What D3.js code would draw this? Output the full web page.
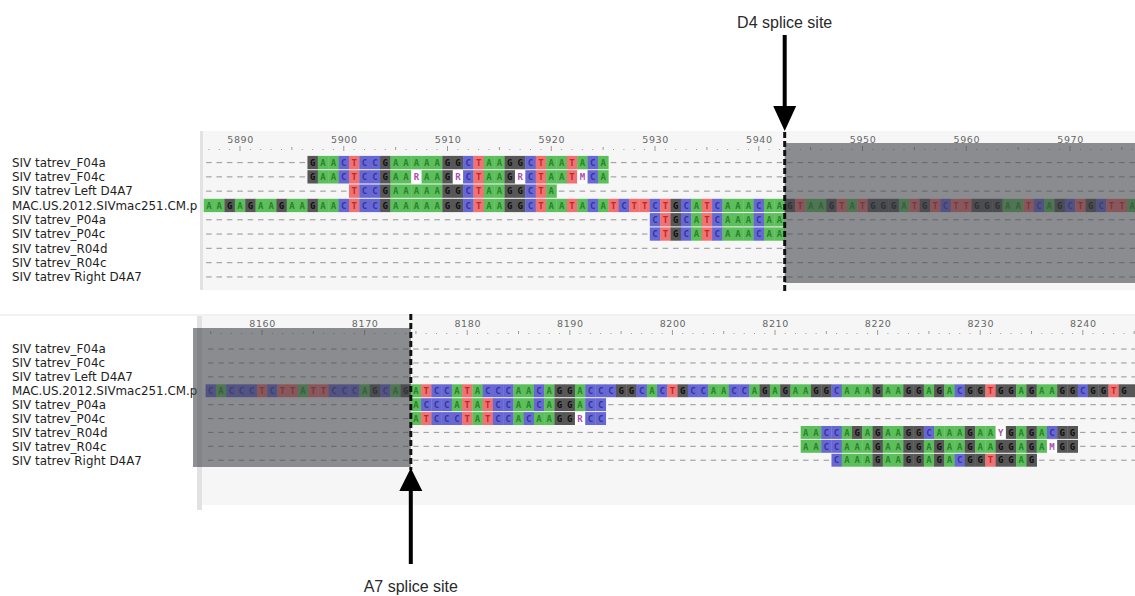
<!DOCTYPE html>
<html>
<head>
<meta charset="utf-8">
<script src="https://cdn.jsdelivr.net/npm/d3@7"></script>
<style>
  body { margin: 0; background: #fff; }
  svg { display: block; }
</style>
</head>
<body>
<svg class="alignment" width="1135" height="596"></svg>
<script>
const rowNames = [
    'SIV tatrev_F04a',
    'SIV tatrev_F04c',
    'SIV tatrev Left D4A7',
    'MAC.US.2012.SIVmac251.CM.p',
    'SIV tatrev_P04a',
    'SIV tatrev_P04c',
    'SIV tatrev_R04d',
    'SIV tatrev_R04c',
    'SIV tatrev Right D4A7'
];

// upper window, around the D4 splice donor
const topFirstPos = 5887;
const topLastPos = 5976;
const topTicks = [5890, 5900, 5910, 5920, 5930, 5940, 5950, 5960, 5970];
const topSpliceAfter = 5942;
const topStarts = [5897, 5897, 5901, 5887, 5930, 5930, null, null, null];
const topSeqs = [
    'GAACTCCGAAAAAGGCTAAGGCTAATACA',
    'GAACTCCGAARAAGRCTAAGRCTAATMCA',
    'TCCGAAAAAGGCTAAGGCTA',
    'AAGAGAAGAAGAACTCCGAAAAAGGCTAAGGCTAATACATCTTCTGCATCAAACAA' + 'GTAAGTATGGGATGTCTTGGGAATCAGCTGCTTA',
    'CTGCATCAAACAA',
    'CTGCATCAAACAA',
    '', '', ''
];

// lower window, around the A7 splice acceptor
const bottomFirstPos = 8155;
const bottomLastPos = 8245;
const bottomTicks = [8160, 8170, 8180, 8190, 8200, 8210, 8220, 8230, 8240];
const bottomSpliceAfter = 8174;
const bottomStarts = [null, null, null, 8155, 8175, 8175, 8213, 8213, 8216];
const bottomSeqs = [
    '', '', '',
    'CACCCTCTTATTCCCAGCAG' + 'ATCCATACCCAACAGGACCCGGCACTGCCAACCAGAGAAGGCAAAGAAGGAGACGGTGGAGAAGGCGGTGG',
    'ACCCATATCCAACAGGACC',
    'ATCCCTATCCACAAGGRCC',
    'AACCAGAGAAGGCAAAGAAYGAGACGG',
    'AACCAAAGAAGGAGAAGAAGGAGAMGG',
    'CAAAGAAGGAGACGGTGGAG'
];

const baseFill = { A: '#5cbf5c', C: '#6868d4', G: '#575757', T: '#f07272' };
const baseText = { A: '#2c832c', C: '#34349e', G: '#0e0e0e', T: '#c02828' };

const svg = d3.select('.alignment');
const W = +svg.attr('width');

function drawPanel(p) {
    const x = d3.scaleLinear()
        .domain([p.firstPos, p.firstPos + 1])
        .range([p.x0, p.x0 + p.cellW]);
    const y = d3.scaleBand()
        .domain(d3.range(rowNames.length))
        .range([p.rowTop, p.rowTop + p.rowStep * rowNames.length]);
    const rowMid = i => y(i) + y.bandwidth() / 2;
    const positions = d3.range(p.firstPos, p.lastPos + 1);
    const spliceX = x(p.spliceAfter + 1);

    const g = svg.append('g');

    if (p.borderY) {
        g.append('line')
            .attr('x1', 0).attr('x2', W)
            .attr('y1', p.borderY).attr('y2', p.borderY)
            .attr('stroke', '#e3e3e3');
    }
    g.append('rect')
        .attr('x', p.bgX).attr('y', p.bgTop)
        .attr('width', W - p.bgX).attr('height', p.bgBottom - p.bgTop)
        .attr('fill', '#f6f6f6');
    g.append('rect')
        .attr('x', p.sepX).attr('y', p.bgTop)
        .attr('width', p.sepW).attr('height', p.sepBottom - p.bgTop)
        .attr('fill', '#e2e2e2');

    // sequence names
    g.selectAll('text.name')
        .data(rowNames)
        .join('text')
        .attr('class', 'name')
        .attr('x', 12)
        .attr('y', (d, i) => rowMid(i))
        .attr('dy', '0.36em')
        .attr('font-family', 'DejaVu Sans, sans-serif')
        .attr('font-size', 11.9)
        .attr('fill', '#1e1e1e')
        .text(d => d);

    svg.append('clipPath').attr('id', 'clip-' + p.id)
        .append('rect')
        .attr('x', p.bgX + p.sepW).attr('y', p.bgTop)
        .attr('width', W - p.bgX).attr('height', p.bgBottom - p.bgTop);
    const a = g.append('g').attr('clip-path', `url(#clip-${p.id})`);

    // ruler
    const ruler = a.append('g')
        .attr('transform', `translate(${p.cellW / 2},${p.labelY})`)
        .call(d3.axisTop(x)
            .tickValues(p.ticks)
            .tickSize(0)
            .tickPadding(0)
            .tickFormat(d3.format('d')));
    ruler.select('.domain').remove();
    ruler.attr('font-family', 'DejaVu Sans, sans-serif').attr('font-size', 9.5);
    ruler.selectAll('text').attr('fill', '#666').attr('letter-spacing', '0.6px');

    a.append('g')
        .selectAll('rect')
        .data(positions)
        .join('rect')
        .attr('x', d => x(d) + p.cellW / 2 - 0.5)
        .attr('y', d => d % 10 === 0 ? p.dotsY - 3 : d % 5 === 0 ? p.dotsY - 2 : p.dotsY)
        .attr('width', 1)
        .attr('height', d => d % 10 === 0 ? 5 : d % 5 === 0 ? 3 : 1)
        .attr('fill', '#9a9a9a');

    // gaps and bases
    const gaps = [];
    const bases = [];
    p.seqs.forEach((s, i) => {
        const start = p.starts[i];
        positions.forEach(pos => {
            const k = start === null ? -1 : pos - start;
            if (k >= 0 && k < s.length) bases.push({ row: i, pos, b: s[k] });
            else gaps.push({ row: i, pos });
        });
    });

    a.append('g')
        .selectAll('line')
        .data(gaps)
        .join('line')
        .attr('x1', d => x(d.pos) + 2.4)
        .attr('x2', d => x(d.pos + 1) - 2.4)
        .attr('y1', d => rowMid(d.row))
        .attr('y2', d => rowMid(d.row))
        .attr('stroke', '#a4a4a4')
        .attr('stroke-width', 1.2);

    const cell = a.append('g')
        .selectAll('g')
        .data(bases)
        .join('g')
        .attr('transform', d => `translate(${x(d.pos)},${y(d.row)})`);
    cell.append('rect')
        .attr('y', 0.5)
        .attr('width', p.cellW + 0.3)
        .attr('height', y.bandwidth() - 1)
        .attr('fill', d => baseFill[d.b] || '#ffffff');
    // letters only where the whole column is on screen
    cell.filter(d => x(d.pos + 1) <= W + 3)
        .append('text')
        .attr('x', p.cellW / 2)
        .attr('y', y.bandwidth() / 2)
        .attr('dy', '0.36em')
        .attr('text-anchor', 'middle')
        .attr('font-family', 'DejaVu Sans Mono, monospace')
        .attr('font-weight', 'bold')
        .attr('font-size', 9)
        .attr('fill', d => baseText[d.b] || '#b04cb0')
        .text(d => d.b);

    // shaded part outside the exon
    const ox1 = p.shadeRight ? spliceX : p.shadeX;
    const ox2 = p.shadeRight ? W : spliceX;
    g.append('rect')
        .attr('x', ox1).attr('y', p.shadeTop)
        .attr('width', ox2 - ox1).attr('height', p.shadeBottom - p.shadeTop)
        .attr('fill', 'rgb(68,70,77)')
        .attr('fill-opacity', 0.6);

    // splice junction
    g.append('line')
        .attr('x1', spliceX).attr('x2', spliceX)
        .attr('y1', p.lineTop).attr('y2', p.lineBottom)
        .attr('stroke', '#111')
        .attr('stroke-width', 3)
        .attr('stroke-dasharray', '6,3');

    return spliceX;
}

const topX = drawPanel({
    id: 'top', firstPos: topFirstPos, lastPos: topLastPos, ticks: topTicks,
    spliceAfter: topSpliceAfter, starts: topStarts, seqs: topSeqs,
    x0: 203.7, cellW: 10.375, labelY: 142.5, dotsY: 149,
    rowTop: 155.4, rowStep: 14.3,
    bgX: 200, bgTop: 131, bgBottom: 290, sepX: 200, sepW: 3, sepBottom: 290,
    shadeRight: true, shadeTop: 143, shadeBottom: 283,
    lineTop: 132, lineBottom: 291
});

const bottomX = drawPanel({
    id: 'bottom', firstPos: bottomFirstPos, lastPos: bottomLastPos, ticks: bottomTicks,
    spliceAfter: bottomSpliceAfter, starts: bottomStarts, seqs: bottomSeqs,
    x0: 205.6, cellW: 10.26, labelY: 326.5, dotsY: 333,
    rowTop: 342.1, rowStep: 13.9,
    borderY: 315, bgX: 197, bgTop: 316, bgBottom: 505, sepX: 197, sepW: 5, sepBottom: 510,
    shadeRight: false, shadeX: 193, shadeTop: 328, shadeBottom: 467,
    lineTop: 314, lineBottom: 470
});

// annotation arrows
svg.append('rect')
    .attr('x', topX - 2).attr('y', 35).attr('width', 4).attr('height', 74)
    .attr('fill', '#000');
svg.append('path')
    .attr('d', `M${topX - 11.5},106 L${topX + 11.5},106 L${topX},131 Z`)
    .attr('fill', '#000');
svg.append('text')
    .attr('x', topX).attr('y', 27.5)
    .attr('text-anchor', 'middle')
    .attr('font-family', 'Liberation Sans, Arial, sans-serif')
    .attr('font-size', 16)
    .attr('fill', '#2a2a2a')
    .text('D4 splice site');

svg.append('path')
    .attr('d', `M${bottomX - 11.5},491 L${bottomX + 11.5},491 L${bottomX},468 Z`)
    .attr('fill', '#000');
svg.append('rect')
    .attr('x', bottomX - 2).attr('y', 488).attr('width', 4).attr('height', 76)
    .attr('fill', '#000');
svg.append('text')
    .attr('x', bottomX).attr('y', 592)
    .attr('text-anchor', 'middle')
    .attr('font-family', 'Liberation Sans, Arial, sans-serif')
    .attr('font-size', 16)
    .attr('fill', '#2a2a2a')
    .text('A7 splice site');
</script>
</body>
</html>
